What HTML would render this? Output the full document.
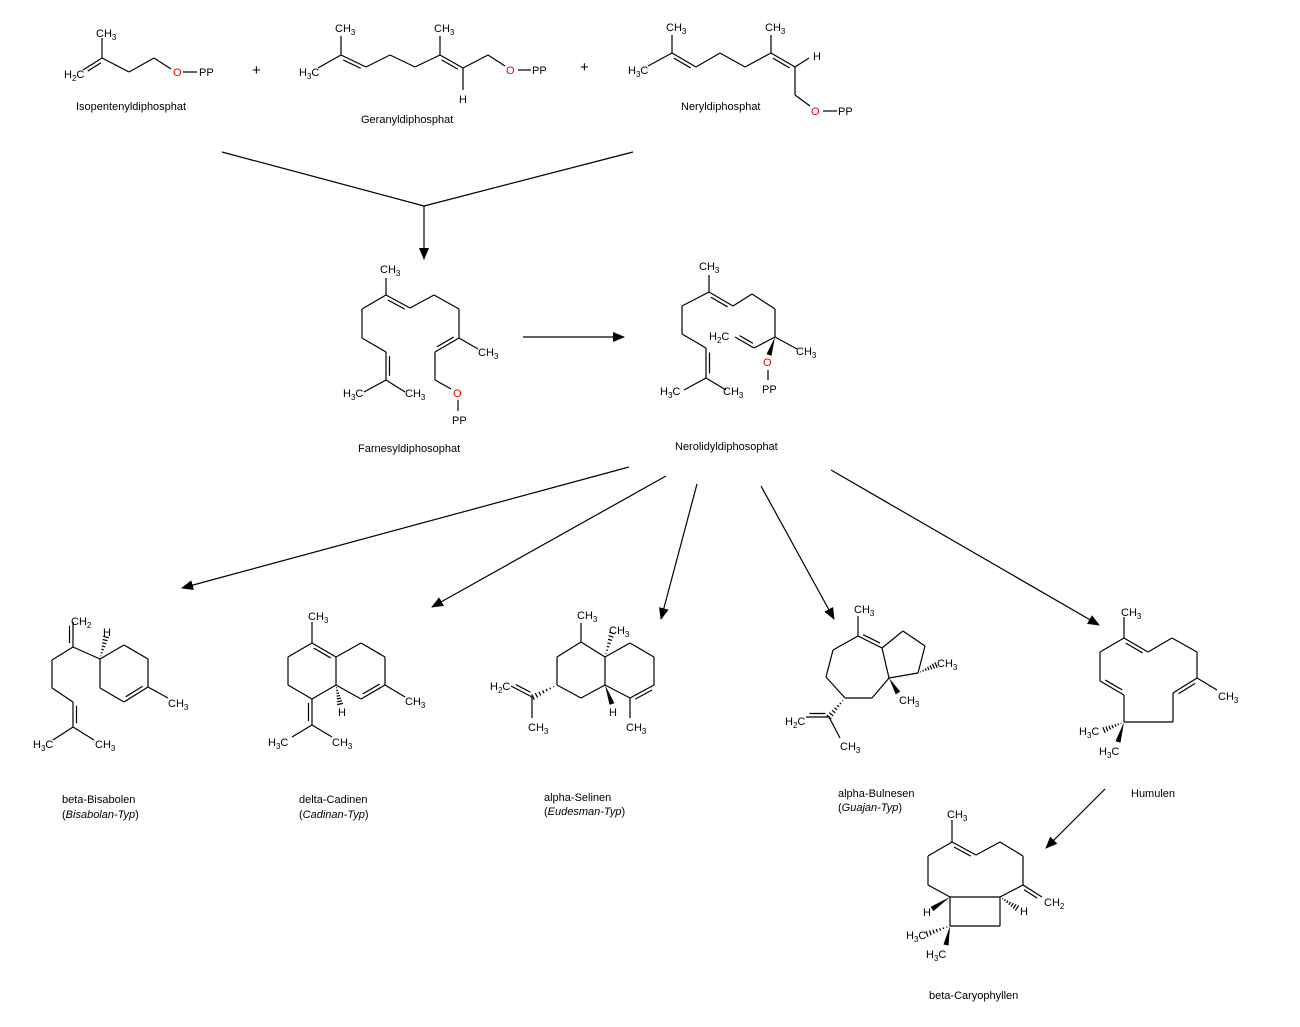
<!DOCTYPE html>
<html><head><meta charset="utf-8"><style>
html,body{margin:0;padding:0;background:#fff;}
svg{display:block}
text{font-family:"Liberation Sans","DejaVu Sans",sans-serif;font-size:11px;fill:#000}
.l{font-size:11px}
.s{font-size:8px}
.r{fill:#e00}
</style></head><body>
<svg id="g" width="1300" height="1027" viewBox="0 0 1300 1027" xmlns="http://www.w3.org/2000/svg">
<defs><marker id="ah" markerWidth="12" markerHeight="10" refX="11" refY="5" orient="auto" markerUnits="userSpaceOnUse"><path d="M0,0 L12,5 L0,10 Z" fill="#000"/></marker></defs>
<g stroke="#000" stroke-width="1.2" fill="none">
<line x1="222" y1="152" x2="424" y2="206"/><line x1="633" y1="152" x2="424" y2="206"/>
<line x1="424" y1="206" x2="424" y2="259" marker-end="url(#ah)"/>
<line x1="523" y1="337" x2="624" y2="337" marker-end="url(#ah)"/>
<line x1="629" y1="467" x2="182" y2="588" marker-end="url(#ah)"/>
<line x1="666" y1="476" x2="432" y2="607" marker-end="url(#ah)"/>
<line x1="697" y1="484" x2="661" y2="619" marker-end="url(#ah)"/>
<line x1="761" y1="486" x2="834" y2="619" marker-end="url(#ah)"/>
<line x1="831" y1="470" x2="1099" y2="625" marker-end="url(#ah)"/>
<line x1="1105" y1="789" x2="1046" y2="848" marker-end="url(#ah)"/>
</g>
<g id="bonds" stroke="#000" stroke-width="1.2" fill="none"></g>
<g id="wedges"></g>
<!-- top -->
<text x="64" y="78">H<tspan class="s" dy="3">2</tspan><tspan dy="-3">C</tspan></text>
<text x="96" y="37">CH<tspan class="s" dy="3">3</tspan></text>
<text x="173" y="76" class="r">O</text><text x="199" y="76">PP</text>
<text x="76" y="110">Isopentenyldiphosphat</text>
<text x="252" y="75" style="font-size:15px">+</text>
<text x="299" y="76">H<tspan class="s" dy="3">3</tspan><tspan dy="-3">C</tspan></text>
<text x="335" y="32">CH<tspan class="s" dy="3">3</tspan></text>
<text x="434" y="32">CH<tspan class="s" dy="3">3</tspan></text>
<text x="459" y="103">H</text>
<text x="506" y="74" class="r">O</text><text x="532" y="74">PP</text>
<text x="361" y="123">Geranyldiphosphat</text>
<text x="580" y="72" style="font-size:15px">+</text>
<text x="628" y="74">H<tspan class="s" dy="3">3</tspan><tspan dy="-3">C</tspan></text>
<text x="666" y="31">CH<tspan class="s" dy="3">3</tspan></text>
<text x="765" y="31">CH<tspan class="s" dy="3">3</tspan></text>
<text x="813" y="60">H</text>
<text x="811" y="115" class="r">O</text><text x="838" y="115">PP</text>
<text x="681" y="110">Neryldiphosphat</text>
<!-- farnesyl -->
<text x="380" y="273">CH<tspan class="s" dy="3">3</tspan></text>
<text x="478" y="356">CH<tspan class="s" dy="3">3</tspan></text>
<text x="343" y="397">H<tspan class="s" dy="3">3</tspan><tspan dy="-3">C</tspan></text>
<text x="405" y="397">CH<tspan class="s" dy="3">3</tspan></text>
<text x="453" y="397" class="r">O</text><text x="452" y="424">PP</text>
<text x="358" y="452">Farnesyldiphosophat</text>
<!-- nerolidyl -->
<text x="699" y="270">CH<tspan class="s" dy="3">3</tspan></text>
<text x="709" y="340">H<tspan class="s" dy="3">2</tspan><tspan dy="-3">C</tspan></text>
<text x="796" y="355">CH<tspan class="s" dy="3">3</tspan></text>
<text x="763" y="366" class="r">O</text><text x="762" y="393">PP</text>
<text x="660" y="395">H<tspan class="s" dy="3">3</tspan><tspan dy="-3">C</tspan></text>
<text x="723" y="395">CH<tspan class="s" dy="3">3</tspan></text>
<text x="675" y="450">Nerolidyldiphosophat</text>
<!-- bisabolen -->
<text x="71" y="625">CH<tspan class="s" dy="3">2</tspan></text>
<text x="103" y="636">H</text>
<text x="168" y="707">CH<tspan class="s" dy="3">3</tspan></text>
<text x="33" y="748">H<tspan class="s" dy="3">3</tspan><tspan dy="-3">C</tspan></text>
<text x="95" y="748">CH<tspan class="s" dy="3">3</tspan></text>
<text x="62" y="803">beta-Bisabolen</text>
<text x="62" y="818">(<tspan font-style="italic">Bisabolan-Typ</tspan>)</text>
<!-- cadinen -->
<text x="308" y="620">CH<tspan class="s" dy="3">3</tspan></text>
<text x="338" y="716">H</text>
<text x="405" y="705">CH<tspan class="s" dy="3">3</tspan></text>
<text x="268" y="746">H<tspan class="s" dy="3">3</tspan><tspan dy="-3">C</tspan></text>
<text x="332" y="746">CH<tspan class="s" dy="3">3</tspan></text>
<text x="299" y="803">delta-Cadinen</text>
<text x="299" y="818">(<tspan font-style="italic">Cadinan-Typ</tspan>)</text>
<!-- selinen -->
<text x="577" y="619">CH<tspan class="s" dy="3">3</tspan></text>
<text x="609" y="634">CH<tspan class="s" dy="3">3</tspan></text>
<text x="609" y="716">H</text>
<text x="626" y="731">CH<tspan class="s" dy="3">3</tspan></text>
<text x="490" y="690">H<tspan class="s" dy="3">2</tspan><tspan dy="-3">C</tspan></text>
<text x="528" y="731">CH<tspan class="s" dy="3">3</tspan></text>
<text x="544" y="801">alpha-Selinen</text>
<text x="544" y="815">(<tspan font-style="italic">Eudesman-Typ</tspan>)</text>
<!-- bulnesen -->
<text x="854" y="613">CH<tspan class="s" dy="3">3</tspan></text>
<text x="937" y="667">CH<tspan class="s" dy="3">3</tspan></text>
<text x="899" y="704">CH<tspan class="s" dy="3">3</tspan></text>
<text x="785" y="725">H<tspan class="s" dy="3">2</tspan><tspan dy="-3">C</tspan></text>
<text x="840" y="750">CH<tspan class="s" dy="3">3</tspan></text>
<text x="838" y="797">alpha-Bulnesen</text>
<text x="838" y="811">(<tspan font-style="italic">Guajan-Typ</tspan>)</text>
<!-- humulen -->
<text x="1121" y="616">CH<tspan class="s" dy="3">3</tspan></text>
<text x="1218" y="700">CH<tspan class="s" dy="3">3</tspan></text>
<text x="1079" y="735">H<tspan class="s" dy="3">3</tspan><tspan dy="-3">C</tspan></text>
<text x="1099" y="755">H<tspan class="s" dy="3">3</tspan><tspan dy="-3">C</tspan></text>
<text x="1131" y="797">Humulen</text>
<!-- caryophyllen -->
<text x="947" y="818">CH<tspan class="s" dy="3">3</tspan></text>
<text x="1044" y="906">CH<tspan class="s" dy="3">2</tspan></text>
<text x="923" y="916">H</text>
<text x="1020" y="915">H</text>
<text x="906" y="939">H<tspan class="s" dy="3">3</tspan><tspan dy="-3">C</tspan></text>
<text x="926" y="958">H<tspan class="s" dy="3">3</tspan><tspan dy="-3">C</tspan></text>
<text x="929" y="999">beta-Caryophyllen</text>
</svg>
<script>
var B=document.getElementById('bonds'),W=document.getElementById('wedges'),NS='http://www.w3.org/2000/svg';
function ln(a,b,c,d,col){var e=document.createElementNS(NS,'line');e.setAttribute('x1',a);e.setAttribute('y1',b);e.setAttribute('x2',c);e.setAttribute('y2',d);if(col)e.setAttribute('stroke',col);B.appendChild(e);}
function p(pts){for(var i=0;i+3<pts.length;i+=2)ln(pts[i],pts[i+1],pts[i+2],pts[i+3]);}
function d(a,b,c,e,s){ln(a,b,c,e);var dx=c-a,dy=e-b,L=Math.hypot(dx,dy),nx=-dy/L*3.5*s,ny=dx/L*3.5*s;ln(a+nx+dx*.15,b+ny+dy*.15,c+nx-dx*.15,e+ny-dy*.15);}
function w(a,b,c,e){var dx=c-a,dy=e-b,L=Math.hypot(dx,dy),nx=-dy/L*2.6,ny=dx/L*2.6;var q=document.createElementNS(NS,'polygon');q.setAttribute('points',a+','+b+' '+(c+nx)+','+(e+ny)+' '+(c-nx)+','+(e-ny));W.appendChild(q);}
function h(a,b,c,e){var dx=c-a,dy=e-b,L=Math.hypot(dx,dy),ux=-dy/L,uy=dx/L;for(var i=1;i<=7;i++){var t=i/7,r=t*3;ln(a+dx*t+ux*r,b+dy*t+uy*r,a+dx*t-ux*r,b+dy*t-uy*r);}}
// isopentenyl
d(83,70,102,58,1);p([102,58,102,38]);p([102,58,129,72,154,58,171,69]);p([183,72,197,72]);
// geranyl
p([318,68,341,55,341,36]);d(341,55,366,67,1);p([366,67,390,55,415,67,440,55,440,36]);d(440,55,463,68,1);p([463,68,463,90]);p([463,68,488,55,505,66]);p([518,70,531,70]);
// neryl
p([648,66,672,53,672,35]);d(672,53,696,67,1);p([696,67,720,53,745,67,771,53,771,35]);d(771,53,795,67,1);p([795,67,809,58]);p([795,67,795,95,810,106]);p([823,111,837,111]);
// farnesyl
p([386,278,386,295]);d(386,295,410,308,1);p([410,308,434,295,459,309,459,338]);d(459,338,435,352,1);p([459,338,478,349]);p([435,352,435,380,451,389]);p([458,400,458,411]);
p([386,295,362,309,362,338,386,352]);d(386,352,386,380,-1);p([386,380,364,392]);p([386,380,405,392]);
// nerolidyl
p([709,275,709,292]);d(709,292,733,306,1);p([733,306,752,294,775,309,775,337,797,349]);p([775,337,754,348]);d(754,348,735,337,1);w(775,337,769,355);p([768,370,768,380]);
p([709,292,682,306,682,334,706,348]);d(706,348,706,378,-1);p([706,378,684,390]);p([706,378,726,390]);
// bisabolen
d(73,622,73,647,1);p([73,647,52,660,52,688,73,702]);d(73,702,73,727,-1);p([73,727,53,740]);p([73,727,94,740]);p([73,647,100,659]);
p([100,659,124,645,148,659,148,687]);d(148,687,124,702,1);p([124,702,100,688,100,659]);p([148,687,168,698]);h(100,659,106,637);
// cadinen
p([312,622,312,643]);d(312,643,336,657,1);p([312,643,288,657,288,685,312,699]);p([336,657,361,643,385,657,385,685]);d(385,685,361,699,1);p([361,699,336,685,336,657]);p([336,685,312,699]);h(336,685,340,704);d(312,699,312,725,1);p([312,725,292,737]);p([312,725,332,737]);p([385,685,405,697]);
// selinen
p([581,623,581,642,557,657,557,685,581,698,605,685,605,657,581,642]);p([605,657,630,643,654,657,654,685]);d(654,685,630,698,-1);p([630,698,605,685]);p([630,698,630,718]);h(605,657,612,633);w(605,685,612,704);h(557,685,533,697);d(532,697,511,686,1);p([532,697,532,718]);
// bulnesen
p([858,616,858,636,833,650,826,677,845,698,872,698,889,678,882,648]);d(858,636,882,648,-1);p([882,648,903,631,925,646,918,673,889,678]);h(918,673,936,665);w(889,678,898,693);h(845,698,829,717);d(829,717,806,717,1);p([829,717,840,738]);
// humulen
p([1124,617,1124,638]);d(1124,638,1148,652,1);p([1148,652,1172,638,1197,652,1197,678]);d(1197,678,1173,693,-1);p([1197,678,1217,690]);p([1173,693,1173,722,1124,722,1124,695]);d(1124,695,1100,681,1);p([1100,681,1100,652,1124,638]);h(1124,722,1104,730);w(1124,722,1118,742);
// caryophyllen
p([952,820,952,842]);d(952,842,976,855,1);p([976,855,1000,842,1023,856,1023,885]);d(1023,885,1042,897,1);p([1023,885,1000,897]);p([950,897,1000,897,1000,926,950,926,950,897]);p([950,897,928,885,928,856,952,842]);w(950,897,932,909);h(1000,897,1017,908);h(950,926,927,934);w(950,926,946,945);
</script>
</body></html>
